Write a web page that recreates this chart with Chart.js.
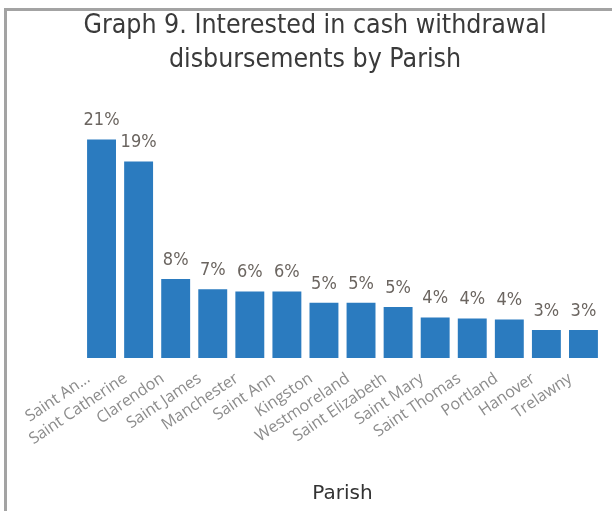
<!DOCTYPE html>
<html>
<head>
<meta charset="utf-8">
<style>
  html, body { margin: 0; padding: 0; background: #fff; overflow: hidden; }
  #frame {
    position: absolute; left: 4px; top: 8px; width: 700px; height: 600px;
    border-left: 3px solid #a3a3a3; border-top: 3px solid #a3a3a3;
  }
  #wrap { position: absolute; left: 0; top: 0; width: 612px; height: 511px; }
</style>
<script src="https://cdn.jsdelivr.net/npm/chart.js@4"></script>
</head>
<body>
<div id="frame"></div>
<div id="wrap"><canvas id="c" width="612" height="511"></canvas></div>
<script>
// Parishes and the share of respondents interested in cash withdrawal disbursements (%)
const parishes = [
  'Saint An...', 'Saint Catherine', 'Clarendon', 'Saint James', 'Manchester',
  'Saint Ann', 'Kingston', 'Westmoreland', 'Saint Elizabeth', 'Saint Mary',
  'Saint Thomas', 'Portland', 'Hanover', 'Trelawny'
];
const shares = [21.0, 18.9, 7.6, 6.6, 6.4, 6.4, 5.3, 5.3, 4.9, 3.9, 3.8, 3.7, 2.7, 2.7];

const titleLines = ['Graph 9. Interested in cash withdrawal', 'disbursements by Parish'];
const axisTitle = 'Parish';

const narrow = '"DejaVu Sans Condensed", "Liberation Sans Narrow", "DejaVu Sans", sans-serif';

// Percentage labels written above each bar
const valueLabels = {
  id: 'valueLabels',
  afterDatasetsDraw(chart) {
    const ctx = chart.ctx;
    const meta = chart.getDatasetMeta(0);
    ctx.save();
    ctx.font = '18px ' + narrow;
    ctx.fillStyle = '#6b6560';
    ctx.textAlign = 'center';
    ctx.textBaseline = 'middle';
    meta.data.forEach((bar, i) => {
      ctx.fillText(Math.round(shares[i]) + '%', bar.x, bar.y - 19);
    });
    ctx.restore();
  }
};

new Chart(document.getElementById('c'), {
  type: 'bar',
  data: {
    labels: parishes,
    datasets: [{
      data: shares,
      backgroundColor: '#2b7bbf',
      borderWidth: 0,
      categoryPercentage: 1,
      barPercentage: 0.78
    }]
  },
  options: {
    responsive: false,
    animation: false,
    events: [],
    layout: { padding: { left: 18, right: 0, top: 6, bottom: 0 } },
    plugins: {
      legend: { display: false },
      tooltip: { enabled: false },
      title: {
        display: true,
        text: titleLines,
        color: '#3a3a3a',
        font: { family: narrow, size: 26.5, weight: 'normal', lineHeight: 1.25 },
        padding: { top: 4, bottom: 30 }
      }
    },
    scales: {
      x: {
        grid: { display: false },
        border: { display: false },
        ticks: {
          autoSkip: false,
          maxRotation: 34,
          minRotation: 34,
          padding: 3,
          labelOffset: -13,
          color: '#8c8c8c',
          font: { family: '"Open Sans", "Noto Sans", sans-serif', size: 16 }
        },
        title: {
          display: true,
          text: axisTitle,
          color: '#333333',
          font: { family: '"DejaVu Sans", sans-serif', size: 20 },
          padding: { top: 4, bottom: 5 }
        },
        afterFit(scale) { scale.height = 153; }
      },
      y: {
        min: 0,
        max: 24.2,
        grid: { display: false },
        border: { display: false },
        ticks: { display: false },
        afterFit(scale) { scale.width = 65; }
      },
      yRight: {
        position: 'right',
        grid: { display: false },
        border: { display: false },
        ticks: { display: false },
        afterFit(scale) { scale.width = 10; }
      }
    }
  },
  plugins: [valueLabels]
});
</script>
</body>
</html>
